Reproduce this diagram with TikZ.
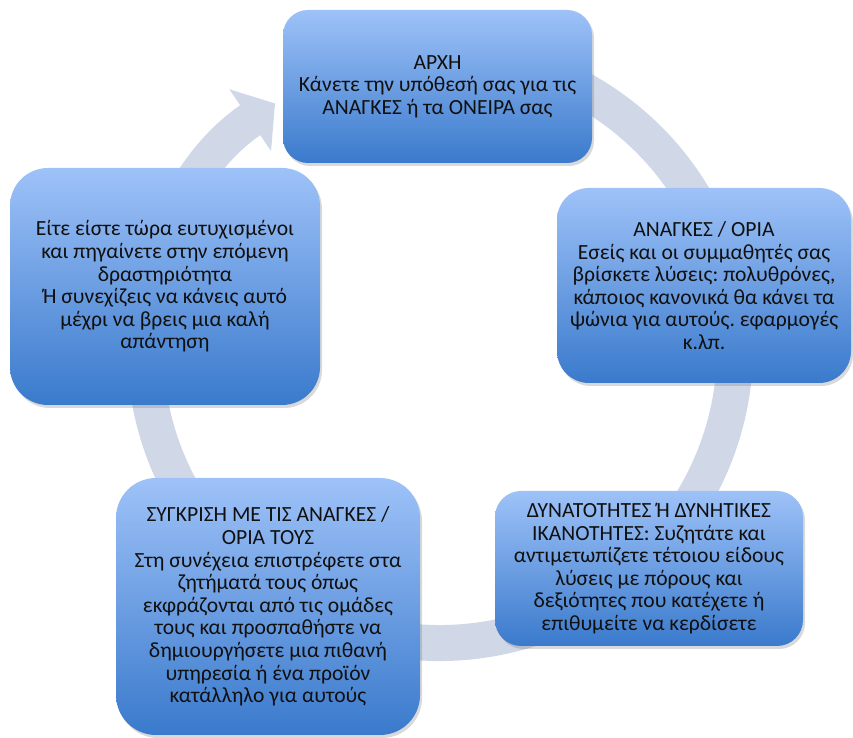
\documentclass[tikz,border=0pt]{standalone}
\usepackage{fontspec}
\setmainfont{Carlito}
\frenchspacing
\usetikzlibrary{arrows.meta,shadows}
\definecolor{ringgray}{RGB}{208,216,232}
\definecolor{boxtop}{RGB}{158,194,248}
\definecolor{boxbottom}{RGB}{58,122,204}
\definecolor{boxtext}{RGB}{16,16,16}

\begin{document}
\begin{tikzpicture}[x=1pt, y=1pt,
		every node/.style={font=\fontsize{21.6}{22.6}\selectfont, text=boxtext, align=center},
		cyclebox/.style={rounded corners=#1, top color=boxtop, bottom color=boxbottom, inner sep=0pt,
			drop shadow={opacity=0.3, shadow xshift=2pt, shadow yshift=-3pt}},
		cyclebox/.default=30pt]
		% Frame
		\useasboundingbox (0,0) rectangle (853,738);

		% Ring
		\coordinate (centre) at (440,390);
		\draw[ringgray, line width=36pt, -{Triangle[length=30pt, width=73pt]}]
			([shift={(100:295)}]centre) arc[start angle=100, end angle=-236, radius=295];

		% Boxes
		\node[cyclebox=25pt, minimum width=309pt, minimum height=153pt] (start) at (437.5,651.5)
			{ΑΡΧΗ\\Κάνετε την υπόθεσή σας για τις\\ΑΝΑΓΚΕΣ ή τα ΟΝΕΙΡΑ σας};
		\node[cyclebox=32pt, minimum width=294pt, minimum height=195pt] (needs) at (704,452.5)
			{ΑΝΑΓΚΕΣ / ΟΡΙΑ\\Εσείς και οι συμμαθητές σας\\βρίσκετε λύσεις: πολυθρόνες,\\κάποιος κανονικά θα κάνει τα\\ψώνια για αυτούς. εφαρμογές\\κ.λπ.};
		\node[cyclebox=26pt, minimum width=308pt, minimum height=155pt] (abilities) at (649,169.5)
			{ΔΥΝΑΤΟΤΗΤΕΣ Ή ΔΥΝΗΤΙΚΕΣ\\ΙΚΑΝΟΤΗΤΕΣ: Συζητάτε και\\αντιμετωπίζετε τέτοιου είδους\\λύσεις με πόρους και\\δεξιότητες που κατέχετε ή\\επιθυμείτε να κερδίσετε};
		\node[cyclebox=40pt, minimum width=304pt, minimum height=257pt] (compare) at (268,131.5)
			{ΣΥΓΚΡΙΣΗ ΜΕ ΤΙΣ ΑΝΑΓΚΕΣ /\\ΟΡΙΑ ΤΟΥΣ\\Στη συνέχεια επιστρέφετε στα\\ζητήματά τους όπως\\εκφράζονται από τις ομάδες\\τους και προσπαθήστε να\\δημιουργήσετε μια πιθανή\\υπηρεσία ή ένα προϊόν\\κατάλληλο για αυτούς};
		\node[cyclebox=38pt, minimum width=310pt, minimum height=237pt] (next) at (165,451.5)
			{Είτε είστε τώρα ευτυχισμένοι\\και πηγαίνετε στην επόμενη\\δραστηριότητα\\Ή συνεχίζεις να κάνεις αυτό\\μέχρι να βρεις μια καλή\\απάντηση};
	\end{tikzpicture}
\end{document}
